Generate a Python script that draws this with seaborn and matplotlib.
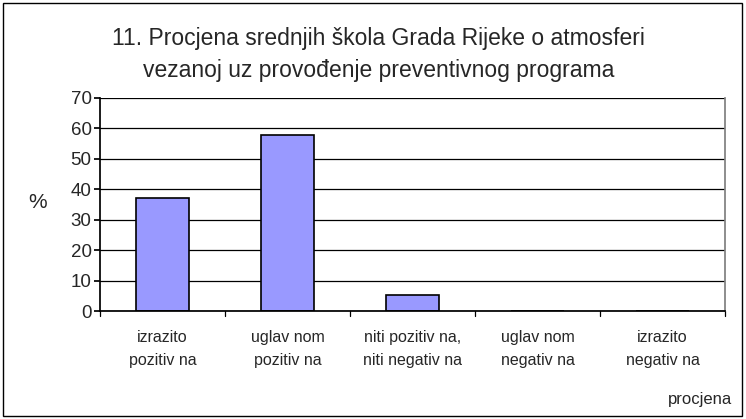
import matplotlib
matplotlib.use("Agg")
import matplotlib.pyplot as plt
import seaborn as sns
import pandas as pd
from matplotlib.patches import Rectangle

# Data
categories = ["izrazito\npozitiv na", "uglav nom\npozitiv na", "niti pozitiv na,\nniti negativ na",
              "uglav nom\nnegativ na", "izrazito\nnegativ na"]
values = [37.1, 58.0, 5.4, 0.0, 0.0]
yticks = [0, 10, 20, 30, 40, 50, 60, 70]

df = pd.DataFrame({"procjena": categories, "pct": values})

sns.set_theme(style="white")
plt.rcParams['font.family'] = ['Liberation Sans', 'DejaVu Sans']

fig = plt.figure(figsize=(7.46, 4.19), dpi=100)
ax = fig.add_axes([100 / 746, 1 - 311 / 419, 625 / 746, 213 / 419])

sns.barplot(data=df, x="procjena", y="pct", ax=ax, color="#9999FF",
            saturation=1, edgecolor="black", linewidth=1.2, width=0.42)

ax.set_ylim(0, 70)
ax.set_xlim(-0.5, 4.5)
ax.set_yticks(yticks)
ax.yaxis.grid(True, color="black", linewidth=0.9)
ax.set_axisbelow(True)
ax.tick_params(axis="y", labelsize=13.5, length=4, color="black", left=True, pad=2)
ax.tick_params(axis="x", labelsize=11.5, length=0, pad=14)
for lbl in ax.get_xticklabels():
    lbl.set_linespacing(1.65)

# category separators on x axis
for xb in [-0.5, 0.5, 1.5, 2.5, 3.5, 4.5]:
    ax.plot([xb, xb], [0, -1.6], color="black", linewidth=0.9, clip_on=False)

ax.spines["left"].set_color("black")
ax.spines["bottom"].set_color("black")
ax.spines["right"].set_color("#808080")
ax.spines["top"].set_visible(False)

ax.set_xlabel("")
ax.set_ylabel("")
fig.text(38 / 746, 1 - 203 / 419, "%", fontsize=15, ha="center", va="center")
fig.text(732 / 746, 1 - 399 / 419, "procjena", fontsize=12, ha="right", va="center")

fig.text(378 / 746, 1 - 38 / 419, "11. Procjena srednjih škola Grada Rijeke o atmosferi",
         fontsize=16.5, ha="center", va="center")
fig.text(379 / 746, 1 - 70 / 419, "vezanoj uz provođenje preventivnog programa",
         fontsize=16.5, ha="center", va="center")

# outer chart border
fig.patches.append(Rectangle((3 / 746, 3 / 419), 739 / 746, 413 / 419, transform=fig.transFigure,
                             fill=False, edgecolor="black", linewidth=1.0))

fig.savefig("out.png", dpi=100)
